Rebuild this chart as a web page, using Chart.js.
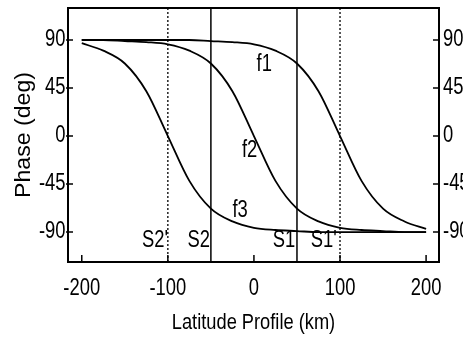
<!DOCTYPE html>
<html>
<head>
<meta charset="utf-8">
<script src="https://cdn.jsdelivr.net/npm/chart.js@4"></script>
<style>
  html, body { margin: 0; padding: 0; background: #fff; overflow: hidden; }
  #wrap { width: 463px; height: 337px; overflow: hidden; position: relative; }
  #myChart { position: absolute; left: 0; top: 0; }
</style>
</head>
<body>
<div id="wrap"><canvas id="myChart" width="480" height="337"></canvas></div>
<script>
// datos
const profileKm = [-200, -175, -150, -125, -100, -75, -50, -25, 0, 25, 50, 75, 100, 125, 150, 175, 200];
const f1Phase = [90, 90, 90, 90, 90, 90, 89, 88, 86, 80, 68, 42, 0, -42, -68, -80, -87];
const f2Phase = [90, 90, 89, 88, 86, 80, 68, 42, 0, -42, -68, -80, -86, -88, -89, -90, -90];
const f3Phase = [87, 80, 68, 42, 0, -42, -68, -80, -86, -88, -89, -90, -90, -90, -90, -90, -90];

const boundaryKm = [-50, 50];      // S2, S1 (solidas)
const primeKm = [-100, 100];       // S2', S1' (punteadas)

const xTicks = [-200, -100, 0, 100, 200];
const yTicks = [-90, -45, 0, 45, 90];

const xMin = -216, xMax = 215;
const yMin = -118, yMax = 120;

// etiquetas dentro del grafico (coordenadas en km / grados)
const markText = ['f1', 'f2', 'f3', "S2'", 'S2', 'S1', "S1'"];
const markKm = [12, -5, -16, -115, -64, 35, 81];
const markDeg = [67, -14, -70, -98, -98, -98, -98];

const xTitle = 'Latitude Profile (km)';
const yTitle = 'Phase (deg)';

const FONT = '"Liberation Sans", Arial, sans-serif';

const ctx = document.getElementById('myChart');

const toPoints = (ys) => profileKm.map((x, i) => ({ x, y: ys[i] }));
const vline = (x) => [{ x, y: yMin }, { x, y: yMax }];

const curve = (label, ys) => ({
    label,
    data: toPoints(ys),
    showLine: true,
    borderColor: '#000',
    borderWidth: 1.8,
    pointRadius: 0,
    cubicInterpolationMode: 'monotone'
});

const datasets = [
    curve('f1', f1Phase),
    curve('f2', f2Phase),
    curve('f3', f3Phase)
];
boundaryKm.forEach(v => datasets.push({
    data: vline(v), showLine: true, borderColor: '#000', borderWidth: 1.5, pointRadius: 0
}));
primeKm.forEach(v => datasets.push({
    data: vline(v), showLine: true, borderColor: '#000', borderWidth: 1.3, borderDash: [2, 2], pointRadius: 0
}));

// texto comprimido en horizontal (la figura original esta estirada en vertical)
const drawText = (c, text, px, py, size, sx, align) => {
    c.save();
    c.translate(px, py);
    c.scale(sx, 1);
    c.font = size + 'px ' + FONT;
    c.textAlign = align;
    c.textBaseline = 'middle';
    c.fillText(text, 0, 0);
    c.restore();
};

// dibuja textos, marcas de ticks y titulos
const extras = {
    id: 'extras',
    afterDatasetsDraw(chart) {
        const c = chart.ctx;
        const { x, y } = chart.scales;
        const area = chart.chartArea;
        c.save();
        c.fillStyle = '#000';
        c.strokeStyle = '#000';
        c.lineWidth = 1.5;

        // ticks hacia dentro + etiquetas
        yTicks.forEach(v => {
            const py = y.getPixelForValue(v);
            c.beginPath();
            c.moveTo(area.left - 2, py); c.lineTo(area.left + 5, py);
            c.moveTo(area.right - 6, py); c.lineTo(area.right, py);
            c.stroke();
            drawText(c, String(v), area.left - 2.5, py, 23, 0.8, 'right');
            drawText(c, String(v), area.right + 4, py, 23, 0.8, 'left');
        });
        xTicks.forEach(v => {
            const px = x.getPixelForValue(v);
            c.beginPath();
            c.moveTo(px, area.bottom); c.lineTo(px, area.bottom - 7);
            c.stroke();
            drawText(c, String(v), px, area.bottom + 27, 23, 0.8, 'center');
        });

        markText.forEach((t, i) => {
            drawText(c, t, x.getPixelForValue(markKm[i]), y.getPixelForValue(markDeg[i]), 23, 0.8, 'center');
        });

        drawText(c, xTitle, (area.left + area.right) / 2, 323, 22, 0.83, 'center');

        // titulo eje Y
        c.translate(24, 135);
        c.rotate(-Math.PI / 2);
        c.scale(1.05, 1);
        c.font = '22px ' + FONT;
        c.textAlign = 'center';
        c.textBaseline = 'middle';
        c.fillText(yTitle, 0, 0);
        c.restore();
    }
};

const axisBase = {
    type: 'linear',
    grid: { display: false, drawTicks: false },
    border: { display: true, color: '#000', width: 2 },
    ticks: { display: false }
};

const myChart = new Chart(ctx, {
    type: 'scatter',
    data: { datasets },
    options: {
        responsive: false,
        animation: false,
        layout: { padding: { top: 8, left: 0, right: 0, bottom: 0 } },
        plugins: { legend: { display: false }, tooltip: { enabled: false } },
        scales: {
            x: { ...axisBase, position: 'bottom', min: xMin, max: xMax,
                afterFit: (s) => { s.height = 75; } },
            xTop: { ...axisBase, position: 'top', min: xMin, max: xMax,
                afterFit: (s) => { s.height = 0; } },
            y: { ...axisBase, position: 'left', min: yMin, max: yMax,
                afterFit: (s) => { s.width = 68; } },
            yR: { ...axisBase, position: 'right', min: yMin, max: yMax,
                afterFit: (s) => { s.width = 41; } }
        }
    },
    plugins: [extras]
});
</script>
</body>
</html>
